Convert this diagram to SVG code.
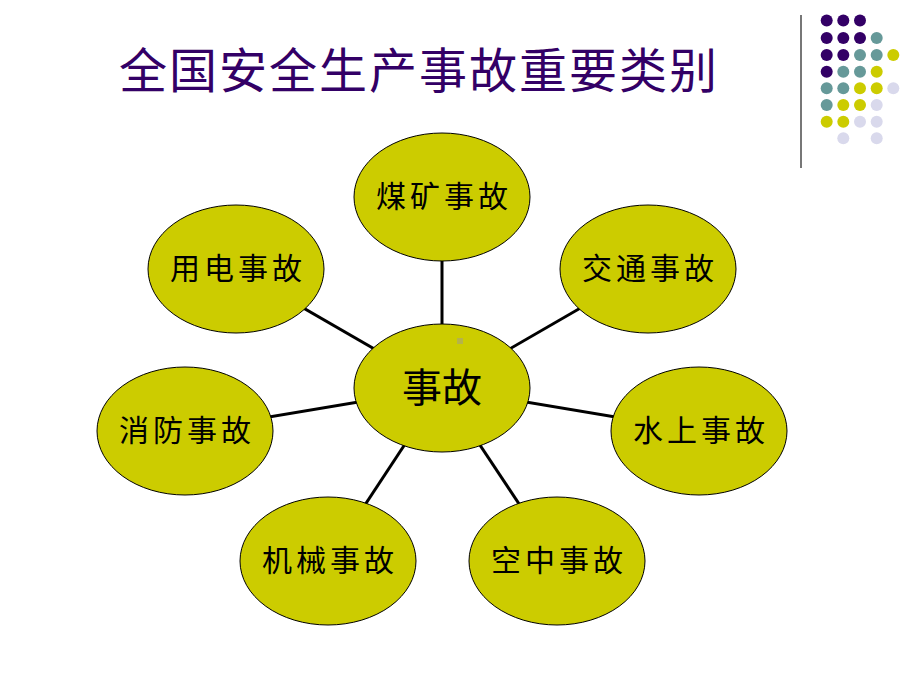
<svg xmlns="http://www.w3.org/2000/svg" width="920" height="690" viewBox="0 0 920 690">
<style>
.node ellipse{fill:#CCCC00;stroke:#000;stroke-width:1}
.node text{font-family:"Noto Sans CJK SC","Noto Sans CJK TC",sans-serif;font-size:30px;fill:#000;text-anchor:middle;letter-spacing:4px}
.conn line{stroke:#000;stroke-width:3}
.p{fill:#330066}.t{fill:#669999}.y{fill:#CCCC00}.l{fill:#D9D9EC}
</style>
<rect width="920" height="690" fill="#fff"/>
<text x="419" y="88" font-family="'Noto Sans CJK SC','Noto Sans CJK TC',sans-serif" font-size="48" fill="#330066" text-anchor="middle" letter-spacing="2">全国安全生产事故重要类别</text>
<line x1="801" y1="15" x2="801" y2="168" stroke="#777" stroke-width="2"/>
<g id="dots">
<circle class="p" cx="826.7" cy="20.5" r="6"/><circle class="p" cx="843.3" cy="20.5" r="6"/><circle class="p" cx="860" cy="20.5" r="6"/>
<circle class="p" cx="826.7" cy="38" r="6"/><circle class="p" cx="843.3" cy="38" r="6"/><circle class="p" cx="860" cy="38" r="6"/><circle class="t" cx="876.7" cy="38" r="6"/>
<circle class="p" cx="826.7" cy="55" r="6"/><circle class="p" cx="843.3" cy="55" r="6"/><circle class="t" cx="860" cy="55" r="6"/><circle class="t" cx="876.7" cy="55" r="6"/><circle class="y" cx="893.3" cy="55" r="6"/>
<circle class="p" cx="826.7" cy="71.7" r="6"/><circle class="t" cx="843.3" cy="71.7" r="6"/><circle class="t" cx="860" cy="71.7" r="6"/><circle class="y" cx="876.7" cy="71.7" r="6"/>
<circle class="t" cx="826.7" cy="88.3" r="6"/><circle class="t" cx="843.3" cy="88.3" r="6"/><circle class="y" cx="860" cy="88.3" r="6"/><circle class="y" cx="876.7" cy="88.3" r="6"/><circle class="l" cx="893.3" cy="88.3" r="6"/>
<circle class="t" cx="826.7" cy="105" r="6"/><circle class="y" cx="843.3" cy="105" r="6"/><circle class="y" cx="860" cy="105" r="6"/><circle class="l" cx="876.7" cy="105" r="6"/>
<circle class="y" cx="826.7" cy="121.7" r="6"/><circle class="y" cx="843.3" cy="121.7" r="6"/><circle class="l" cx="860" cy="121.7" r="6"/><circle class="l" cx="876.7" cy="121.7" r="6"/>
<circle class="l" cx="843.3" cy="138.3" r="6"/><circle class="l" cx="876.7" cy="138.3" r="6"/>
</g>
<g id="connectors" class="conn">
<line x1="442" y1="388" x2="442" y2="197"/>
<line x1="442" y1="388" x2="236" y2="269"/>
<line x1="442" y1="388" x2="648" y2="269"/>
<line x1="442" y1="388" x2="185" y2="431"/>
<line x1="442" y1="388" x2="699" y2="431"/>
<line x1="442" y1="388" x2="328" y2="561"/>
<line x1="442" y1="388" x2="557" y2="561"/>
</g>
<g id="n-coal" class="node"><ellipse cx="442" cy="197" rx="88" ry="64"/><text x="444" y="207">煤矿事故</text></g>
<g id="n-power" class="node"><ellipse cx="236" cy="269" rx="88" ry="64"/><text x="238" y="279">用电事故</text></g>
<g id="n-traffic" class="node"><ellipse cx="648" cy="269" rx="88" ry="64"/><text x="650" y="279">交通事故</text></g>
<g id="n-fire" class="node"><ellipse cx="185" cy="431" rx="88" ry="64"/><text x="187" y="441">消防事故</text></g>
<g id="n-water" class="node"><ellipse cx="699" cy="431" rx="88" ry="64"/><text x="701" y="441">水上事故</text></g>
<g id="n-machine" class="node"><ellipse cx="328" cy="561" rx="88" ry="64"/><text x="330" y="571">机械事故</text></g>
<g id="n-air" class="node"><ellipse cx="557" cy="561" rx="88" ry="64"/><text x="559" y="571">空中事故</text></g>
<g id="n-center" class="node"><ellipse cx="442" cy="388" rx="88" ry="64"/><text x="442" y="402" style="font-size:40px;letter-spacing:0">事故</text><rect x="457" y="338" width="6" height="6" fill="#B5B34A"/></g>
</svg>
